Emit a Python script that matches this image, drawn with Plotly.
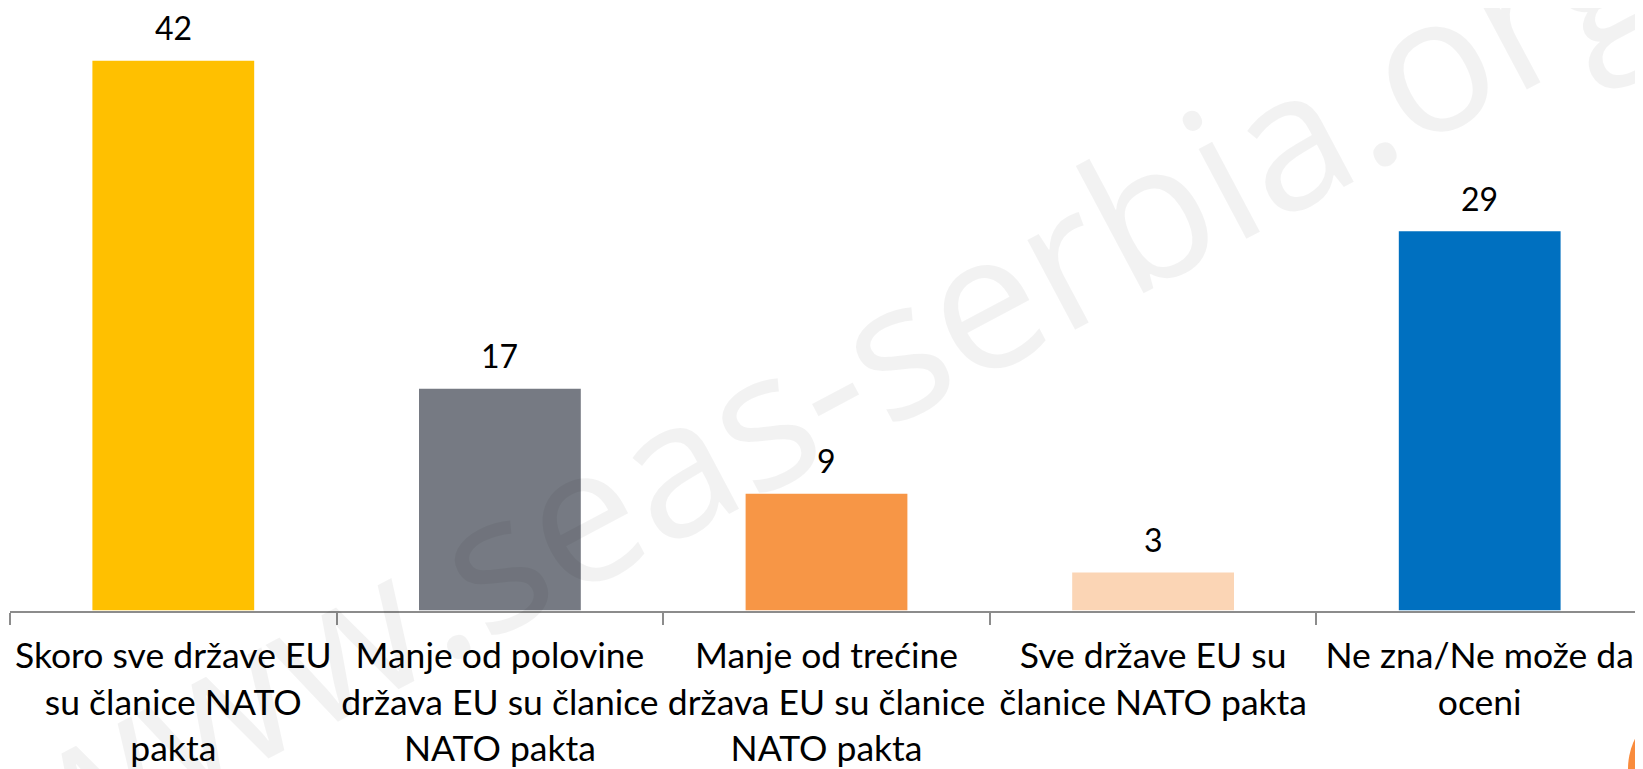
import plotly.graph_objects as go

categories = [
    "Skoro sve države EU<br>su članice NATO<br>pakta",
    "Manje od polovine<br>država EU su članice<br>NATO pakta",
    "Manje od trećine<br>država EU su članice<br>NATO pakta",
    "Sve države EU su<br>članice NATO pakta",
    "Ne zna/Ne može da<br>oceni",
]
values = [42, 17, 9, 3, 29]
colors = ["#FFC000", "#767A83", "#F79646", "#FBD5B5", "#0070C0"]
watermark = "www.seas-serbia.org"

# The page body adds an 8px offset; figure coords = page coords - 8
OFF = 8
W, H = 1643 - OFF, 769 - OFF
ML, MR, MT = 10 - OFF, 0, 0
AXIS_Y = 611 - OFF          # axis line y in figure coords
MB = H - AXIS_Y
PW, PH = W - ML - MR, H - MT - MB
PX_PER_UNIT = 13.12

def px_x(x):
    return (x - OFF - ML) / PW

def px_y(y):
    return (H - MB - (y - OFF)) / PH

fig = go.Figure()
fig.add_trace(go.Bar(
    x=categories, y=values,
    marker=dict(color=colors, line=dict(color="white", width=1.5)),
    width=0.5,
    hoverinfo="skip",
))

for c, v in zip(categories, values):
    fig.add_annotation(x=c, y=v, text=str(v), showarrow=False,
                       yanchor="bottom", yshift=12, borderpad=0,
                       font=dict(family="Lato", size=32, color="#000000"))

fig.add_annotation(xref="paper", yref="paper", x=px_x(827), y=px_y(378),
                   text=watermark, showarrow=False, textangle=-28,
                   font=dict(family="Open Sans", size=190, color="rgba(0,0,0,0.05)"))

cx, cy, r = 1697, 769, 69
fig.add_shape(type="circle", xref="paper", yref="paper",
              x0=px_x(cx - r), x1=px_x(cx + r), y0=px_y(cy + r), y1=px_y(cy - r),
              fillcolor="#F98B3C", line=dict(width=0))

fig.update_layout(
    width=W, height=H,
    margin=dict(l=ML, r=MR, t=MT, b=MB),
    plot_bgcolor="white", paper_bgcolor="white",
    showlegend=False,
    font=dict(family="Lato", color="#000000"),
    xaxis=dict(
        showline=True, linecolor="#8C8C8C", linewidth=1.5,
        ticks="outside", tickson="boundaries", ticklen=12, tickcolor="#8C8C8C", tickwidth=1.5,
        tickfont=dict(family="Lato", size=35.5, color="#000000"),
        tickangle=0,
        ticklabelstandoff=13,
        showgrid=False, automargin=False,
    ),
    yaxis=dict(range=[0, PH / PX_PER_UNIT], visible=False, showgrid=False),
)

fig.write_html("out.html")
